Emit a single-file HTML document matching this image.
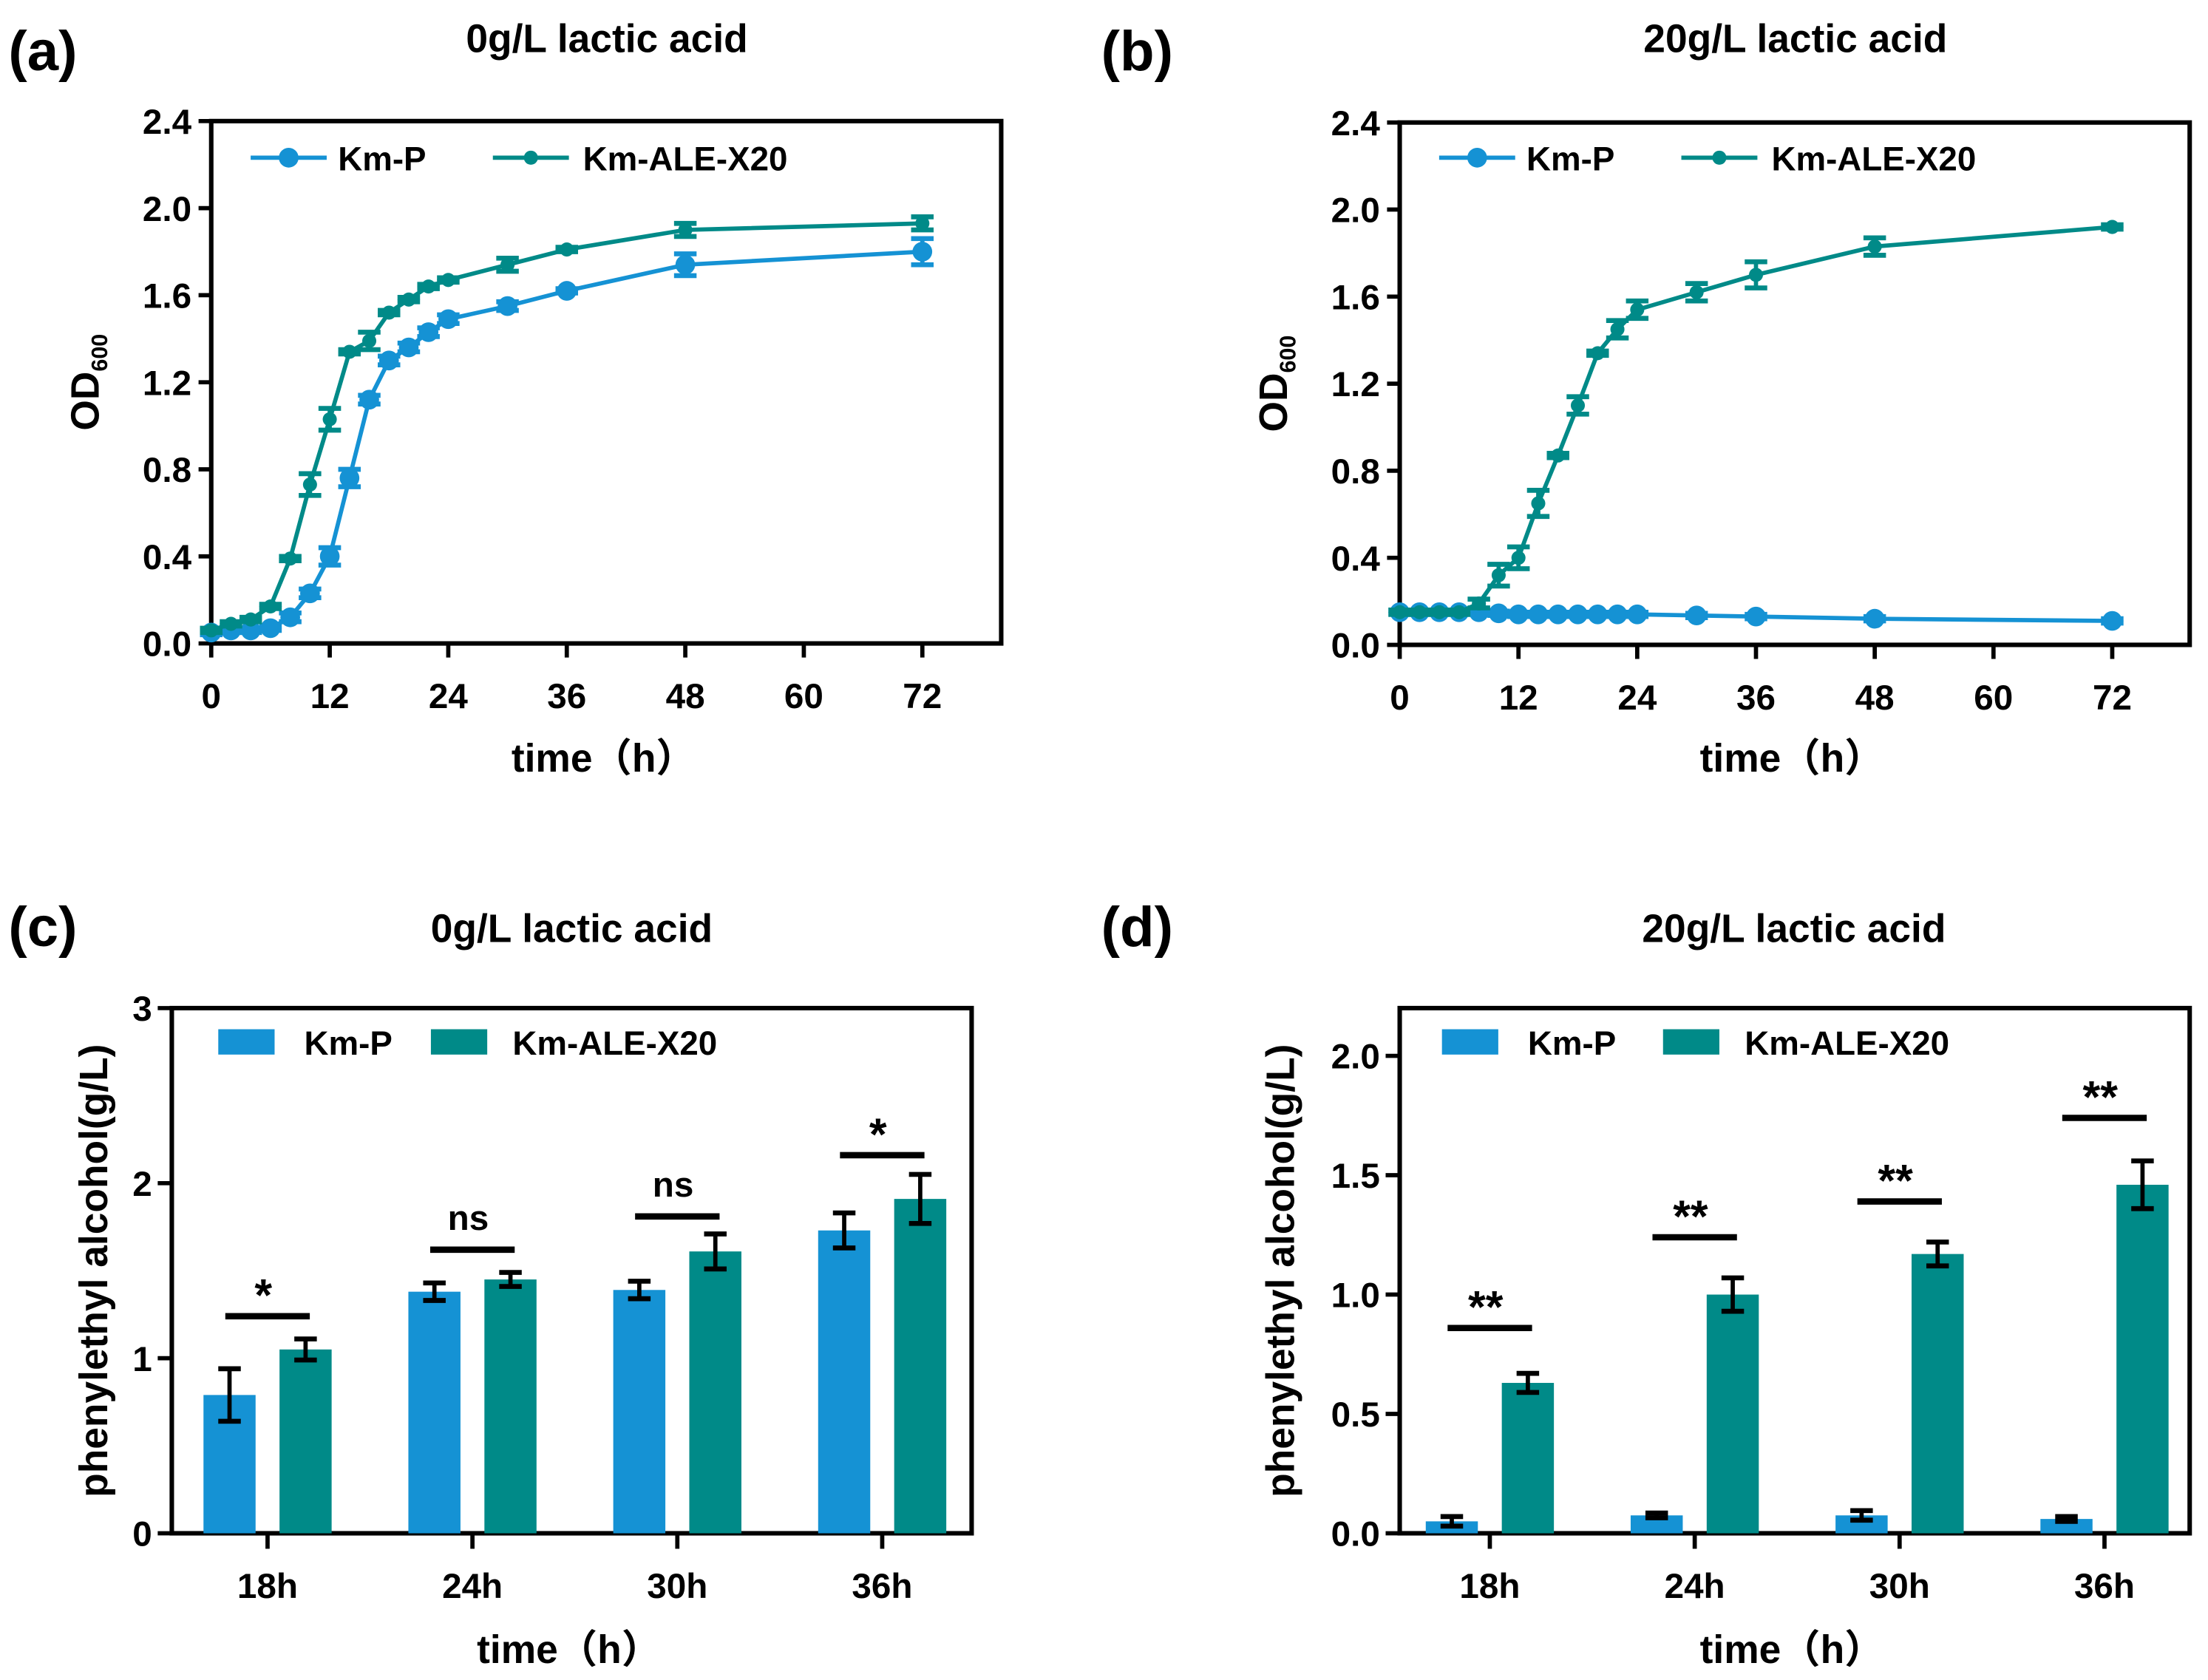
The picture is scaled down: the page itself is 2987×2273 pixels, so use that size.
<!DOCTYPE html>
<html><head><meta charset="utf-8"><style>
html,body{margin:0;padding:0;background:#fff}
svg{display:block}
text{font-family:"Liberation Sans","Noto Sans CJK SC",sans-serif;font-weight:bold;fill:#000}
</style></head><body>
<svg id="fig" width="2987" height="2273" viewBox="0 0 1568 1193.2" xmlns="http://www.w3.org/2000/svg"></svg>
<script>
// ---- data ----
const timesA = [0,2,4,6,8,10,12,14,16,18,20,22,24,30,36,48,72];
const aKmP = [0.05,0.06,0.06,0.07,0.12,0.23,0.40,0.76,1.12,1.30,1.36,1.43,1.49,1.55,1.62,1.74,1.80];
const aKmPErr = [0.01,0.01,0.01,0.01,0.02,0.02,0.04,0.04,0.02,0.02,0.02,0.02,0.02,0.02,0.01,0.05,0.06];
const aALE = [0.06,0.09,0.11,0.17,0.39,0.73,1.03,1.34,1.39,1.52,1.58,1.64,1.67,1.74,1.81,1.90,1.93];
const aALEErr = [0.01,0.01,0.01,0.01,0.01,0.05,0.05,0.01,0.04,0.01,0.01,0.01,0.01,0.03,0.01,0.03,0.03];
const bKmP = [0.15,0.15,0.15,0.15,0.15,0.145,0.14,0.14,0.14,0.14,0.14,0.14,0.14,0.135,0.13,0.12,0.11];
const bKmPErr = [0.01,0.01,0.01,0.01,0.01,0.01,0.01,0.01,0.01,0.01,0.01,0.01,0.01,0.01,0.01,0.01,0.01];
const bALE = [0.15,0.15,0.15,0.15,0.19,0.32,0.40,0.65,0.87,1.10,1.34,1.45,1.54,1.62,1.70,1.83,1.92];
const bALEErr = [0.01,0.01,0.01,0.01,0.02,0.05,0.05,0.06,0.01,0.04,0.01,0.04,0.04,0.04,0.06,0.04,0.01];
const categories = ["18h","24h","30h","36h"];
const cKmP = [0.79,1.38,1.39,1.73];
const cKmPErr = [0.15,0.05,0.05,0.10];
const cALE = [1.05,1.45,1.61,1.91];
const cALEErr = [0.06,0.04,0.10,0.14];
const cSigY = [1.24,1.62,1.81,2.16];
const cSig = ["*","ns","ns","*"];
const dKmP = [0.05,0.075,0.075,0.06];
const dKmPErr = [0.02,0.01,0.02,0.01];
const dALE = [0.63,1.00,1.17,1.46];
const dALEErr = [0.04,0.07,0.05,0.10];
const dSigY = [0.86,1.24,1.39,1.74];
const dSig = ["**","**","**","**"];
const ticksLine = [0,0.4,0.8,1.2,1.6,2.0,2.4];
const ticksTime = [0,12,24,36,48,60,72];
const ticksC = [0,1,2,3];
const ticksD = [0,0.5,1.0,1.5,2.0];

const BLUE="#1592d4", GREEN="#008a88";
const svg=document.getElementById('fig');
const NS="http://www.w3.org/2000/svg";
function el(tag,attrs,parent,txt){const e=document.createElementNS(NS,tag);for(const k in attrs)e.setAttribute(k,attrs[k]);if(txt!==undefined)e.textContent=txt;(parent||svg).appendChild(e);return e;}

function frame(g,L,R,T,B){
  const f=el('rect',{x:L,y:T,width:R-L,height:B-T,fill:'none',stroke:'#000','stroke-width':3.2},g);
  
  
}
function label(x,y,s,size,name,anchor,rot){
  const t=el('text',{x:x,y:y,'font-size':size,'text-anchor':anchor||'middle'},svg,s);
  if(rot)t.setAttribute('transform',`rotate(-90 ${x} ${y})`);
  
  
  return t;
}

function linePanel(id,L,R,T,B,x72,title,tx,lab,lx,kmp,kmpE,ale,aleE,legX){
  const g=el('g',{});
  
  
  const xs=v=>L+(x72-L)*v/72, ys=v=>B-(B-T)*v/2.4;
  frame(g,L,R,T,B);
  ticksLine.forEach(v=>{el('line',{x1:L-9,x2:L,y1:ys(v),y2:ys(v),stroke:'#000','stroke-width':3},g);
    const t=el('text',{x:L-14,y:ys(v)+9,'font-size':25,'text-anchor':'end'},g,v.toFixed(1));
    });
  ticksTime.forEach(v=>{el('line',{x1:xs(v),x2:xs(v),y1:B,y2:B+10,stroke:'#000','stroke-width':3},g);
    const t=el('text',{x:xs(v),y:B+46,'font-size':25,'text-anchor':'middle'},g,String(v));
    });
  function series(vals,errs,col,r,name){
    const sg=el('g',{},g);
    
    
    el('polyline',{points:timesA.map((t,i)=>xs(t)+','+ys(vals[i])).join(' '),fill:'none',stroke:col,'stroke-width':3},sg);
    timesA.forEach((t,i)=>{
      const x=xs(t),y1=ys(vals[i]-errs[i]),y2=ys(vals[i]+errs[i]);
      el('line',{x1:x,x2:x,y1:y1,y2:y2,stroke:col,'stroke-width':3},sg);
      el('line',{x1:x-8,x2:x+8,y1:y1,y2:y1,stroke:col,'stroke-width':3.5},sg);
      el('line',{x1:x-8,x2:x+8,y1:y2,y2:y2,stroke:col,'stroke-width':3.5},sg);
      const c=el('circle',{cx:x,cy:ys(vals[i]),r:r,fill:col},sg);
      
      
    });
  }
  series(kmp,kmpE,BLUE,7,'series-km-p');
  series(ale,aleE,GREEN,5,'series-km-ale-x20');
  const lg=el('g',{},g);
  
  
  el('line',{x1:legX,x2:legX+54,y1:112,y2:112,stroke:BLUE,'stroke-width':3},lg);
  el('circle',{cx:legX+27,cy:112,r:7,fill:BLUE},lg);
  el('text',{x:legX+62,y:121,'font-size':24},lg,'Km-P');
  el('line',{x1:legX+172,x2:legX+226,y1:112,y2:112,stroke:GREEN,'stroke-width':3},lg);
  el('circle',{cx:legX+199,cy:112,r:5,fill:GREEN},lg);
  el('text',{x:legX+236,y:121,'font-size':24},lg,'Km-ALE-X20');
  label(tx,37,title,28,'chart-title');
  label(lx,50,lab,40,'panel-label','start');
  label((L+R)/2-2,548,'time（h）',28,'x-axis-title');
  const yt=el('text',{x:L-80,y:(T+B)/2,'font-size':28,'text-anchor':'middle',transform:`rotate(-90 ${L-80} ${(T+B)/2})`},svg);
  
  
  el('tspan',{},yt,'OD');
  el('tspan',{'font-size':16,dy:6},yt,'600');
}
linePanel('a',150,711,86,457,655,'0g/L lactic acid',431,'(a)',6,aKmP,aKmPErr,aALE,aALEErr,178);
linePanel('b',994,1555,87,458,1500,'20g/L lactic acid',1275,'(b)',782,bKmP,bKmPErr,bALE,bALEErr,1022);

function barPanel(id,L,R,T,B,ymax,ticks,fmt,tick0,kmp,kmpE,ale,aleE,sigY,sig,title,tx,lab,lx,legX,legX2,ytx,top){
  const g=el('g',{});
  
  
  const ys=v=>B-(B-top)*v/ymax, xc=i=>tick0+145.5*i;
  frame(g,L,R,T,B);
  ticks.forEach(v=>{el('line',{x1:L-10,x2:L,y1:ys(v),y2:ys(v),stroke:'#000','stroke-width':3},g);
    const t=el('text',{x:L-14,y:ys(v)+9,'font-size':25,'text-anchor':'end'},g,fmt(v));
    });
  categories.forEach((c,i)=>{
    el('line',{x1:xc(i),x2:xc(i),y1:B,y2:B+11,stroke:'#000','stroke-width':3},g);
    const t=el('text',{x:xc(i),y:B+46,'font-size':25,'text-anchor':'middle'},g,c);
    
    [[kmp,kmpE,BLUE,-27,'bar-km-p-'],[ale,aleE,GREEN,27,'bar-km-ale-x20-']].forEach(([v,e,col,off,nm])=>{
      const cx=xc(i)+off;
      const b=el('rect',{x:cx-18.5,y:ys(v[i]),width:37,height:B-ys(v[i]),fill:col},g);
      
      
      const y1=ys(v[i]-e[i]),y2=ys(v[i]+e[i]);
      el('line',{x1:cx,x2:cx,y1:y1,y2:y2,stroke:'#000','stroke-width':3},g);
      el('line',{x1:cx-8,x2:cx+8,y1:y1,y2:y1,stroke:'#000','stroke-width':3.5},g);
      el('line',{x1:cx-8,x2:cx+8,y1:y2,y2:y2,stroke:'#000','stroke-width':3.5},g);
    });
    const sy=ys(sigY[i]);
    const sl=el('line',{x1:xc(i)-30,x2:xc(i)+30,y1:sy,y2:sy,stroke:'#000','stroke-width':4.5},g);
    
    
    const st=el('text',{x:xc(i)-3,y:sig[i]==='ns'?sy-14:sy-4,'font-size':sig[i]==='ns'?25:32,'text-anchor':'middle'},g,sig[i]);
    
    
  });
  const lg=el('g',{},g);
  
  
  el('rect',{x:legX,y:731,width:40,height:18,fill:BLUE},lg);
  el('text',{x:legX+61,y:749,'font-size':24},lg,'Km-P');
  el('rect',{x:legX2,y:731,width:40,height:18,fill:GREEN},lg);
  el('text',{x:legX2+58,y:749,'font-size':24},lg,'Km-ALE-X20');
  label(tx,669,title,28,'chart-title');
  label(lx,672,lab,40,'panel-label','start');
  label((L+R)/2-2,1181,'time（h）',28,'x-axis-title');
  label(ytx,(T+B)/2,'phenylethyl alcohol(g/L)',28,'y-axis-title','middle',true);
}
barPanel('c',122,690,716,1089,3,ticksC,v=>String(v),190,cKmP,cKmPErr,cALE,cALEErr,cSigY,cSig,'0g/L lactic acid',406,'(c)',6,155,306,76,716);
barPanel('d',994,1555,716,1089,2.2,ticksD,v=>v.toFixed(1),1058,dKmP,dKmPErr,dALE,dALEErr,dSigY,dSig,'20g/L lactic acid',1274,'(d)',782,1024,1181,919,716);
</script>
</body></html>
